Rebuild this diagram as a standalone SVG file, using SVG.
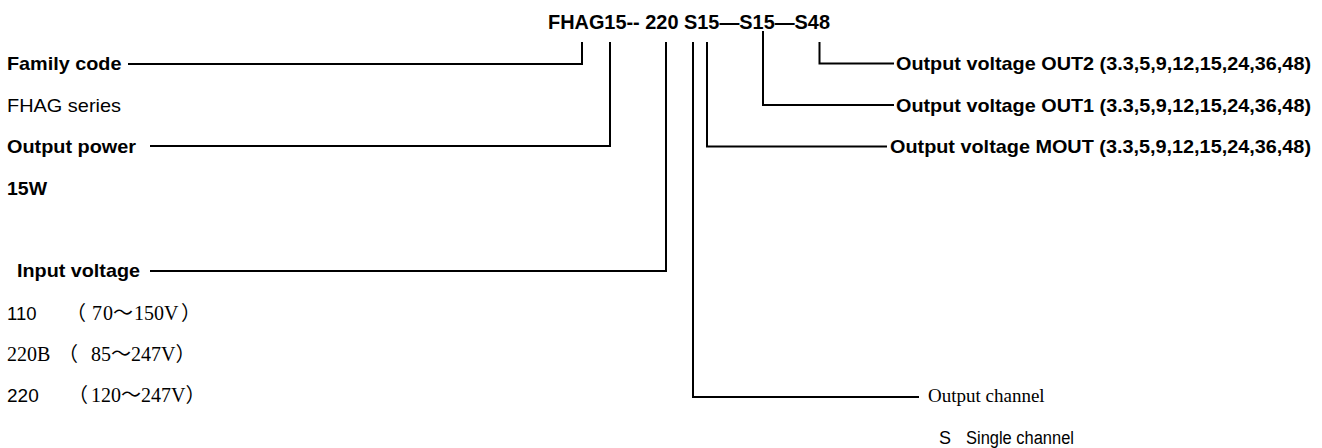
<svg xmlns="http://www.w3.org/2000/svg" width="1322" height="448" viewBox="0 0 1322 448">
<style>
.b{font-family:"Liberation Sans",Arial,sans-serif;font-weight:bold;font-size:19px;fill:#000}
.r{font-family:"Liberation Sans",Arial,sans-serif;font-size:19px;fill:#000}
.s{font-family:"Liberation Serif","Noto Sans CJK SC",serif;font-size:20px;fill:#000}
.c{fill:none;stroke:#000;stroke-width:2}
</style>
<rect width="1322" height="448" fill="#fff"/>
<g id="title"><text class="b" x="548" y="29" style="font-size:19.5px" textLength="282" lengthAdjust="spacingAndGlyphs">FHAG15-- 220 S15—S15—S48</text></g>
<g id="connectors">
<path class="c" d="M128,64 H582 V42"/>
<path class="c" d="M150,146 H610 V42"/>
<path class="c" d="M150,271 H666 V42"/>
<path class="c" d="M919,397 H693 V42"/>
<path class="c" d="M887,146.5 H707 V42"/>
<path class="c" d="M894,105 H763 V31"/>
<path class="c" d="M894,63.5 H819.5 V42"/>
</g>
<g id="family-code"><text class="b" x="7" y="70" textLength="114.5" lengthAdjust="spacingAndGlyphs">Family code</text></g>
<g id="fhag-series"><text class="r" x="7" y="112" textLength="114" lengthAdjust="spacingAndGlyphs">FHAG series</text></g>
<g id="output-power"><text class="b" x="7" y="153" textLength="129" lengthAdjust="spacingAndGlyphs">Output power</text></g>
<g id="power-15w"><text class="b" x="7" y="195" textLength="40" lengthAdjust="spacingAndGlyphs">15W</text></g>
<g id="input-voltage"><text class="b" x="17" y="277" textLength="123" lengthAdjust="spacingAndGlyphs">Input voltage</text></g>
<g id="v110">
<text class="r" x="7" y="320" style="font-size:18.5px">110</text>
<text class="s" y="320"><tspan x="66">（</tspan><tspan x="92">7</tspan><tspan x="103">0</tspan><tspan x="113">～</tspan><tspan x="134">150V</tspan><tspan x="181">）</tspan></text>
</g>
<g id="v220b">
<text class="s" x="7" y="361">220B</text>
<text class="s" y="361"><tspan x="58">（</tspan><tspan x="91">85～247V）</tspan></text>
</g>
<g id="v220">
<text class="r" x="7" y="401.5">220</text>
<text class="s" y="401.5"><tspan x="68">（</tspan><tspan x="91">120～247V）</tspan></text>
</g>
<g id="out2"><text class="b" x="1311" y="70" text-anchor="end" textLength="415" lengthAdjust="spacingAndGlyphs">Output voltage OUT2 (3.3,5,9,12,15,24,36,48)</text></g>
<g id="out1"><text class="b" x="1311" y="111.5" text-anchor="end" textLength="415" lengthAdjust="spacingAndGlyphs">Output voltage OUT1 (3.3,5,9,12,15,24,36,48)</text></g>
<g id="mout"><text class="b" x="1311" y="153" text-anchor="end" textLength="421" lengthAdjust="spacingAndGlyphs">Output voltage MOUT (3.3,5,9,12,15,24,36,48)</text></g>
<g id="output-channel"><text class="s" x="928" y="401.5" style="font-size:19px">Output channel</text></g>
<g id="single-channel">
<text class="r" x="939" y="444" style="font-size:18px">S</text>
<text class="r" x="966" y="444" style="font-size:18px" textLength="108" lengthAdjust="spacingAndGlyphs">Single channel</text>
</g>
</svg>
